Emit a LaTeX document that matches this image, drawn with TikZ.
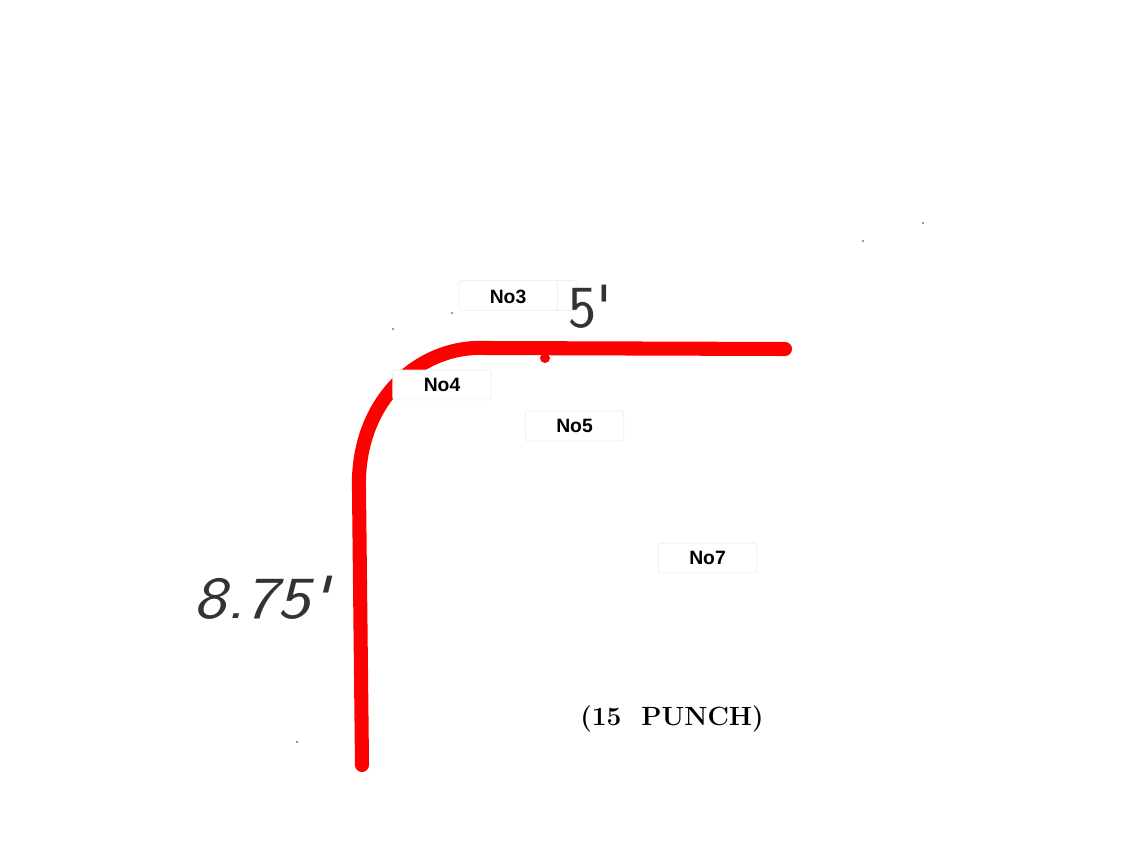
\documentclass[tikz,border=0pt]{standalone}
\usepackage{fontspec}
\usepackage{xcolor}
\newfontfamily\tagfont{Liberation Sans}
\definecolor{bendred}{RGB}{255,0,0}
\definecolor{speck}{RGB}{150,110,70}
\tikzset{
  tagbox/.style = {draw = gray!12, fill = white, rounded corners = 1.5pt, line width = 0.5pt,
    minimum height = 17pt, inner sep = 0pt, font = \tagfont\bfseries\fontsize{11}{13}\selectfont},
  dimtext/.style = {font = \sffamily\fontsize{34}{36}\selectfont, text = black!80}
}
\begin{document}
\begin{tikzpicture}[x = 0.02cm, y = -0.02cm]
    \useasboundingbox (0, 0) rectangle (1138, 855);
    \draw[bendred, line width = 8pt, line cap = round]
      (362, 765) -- (359, 490) .. controls (356, 400) and (420, 345) .. (485, 348) -- (785, 349);
    \fill[bendred] (545, 358) circle (5);
    \foreach \x/\y in {393/329, 452/313, 863/241, 923/223, 297/742, 355/716}
      {\fill[speck] (\x, \y) circle (1.2);}
    \node[tagbox, minimum width = 67.5pt] (no3) at (518.5, 295.5) {};
    \draw[gray!12, line width = 0.5pt] (557, 281) -- (557, 310);
    \node[font = \tagfont\bfseries\fontsize{11}{13}\selectfont] (no3text) at (508, 297) {No3};
    \node[dimtext] (five) at (590, 307) {5\textquotesingle};
    \node[tagbox, minimum width = 56pt] (no4) at (442, 385) {No4};
    \node[tagbox, minimum width = 56pt] (no5) at (574.5, 426) {No5};
    \node[tagbox, minimum width = 56pt] (no7) at (707.5, 558) {No7};
    \node[dimtext, xscale = 1.17, font = \sffamily\slshape\fontsize{34}{36}\selectfont] (leg) at (261, 598) {8.75\textquotesingle};
    \node[font = \bfseries\fontsize{15}{17}\selectfont] (punch) at (672, 719) {(15\ \ PUNCH)};
  \end{tikzpicture}
\end{document}
